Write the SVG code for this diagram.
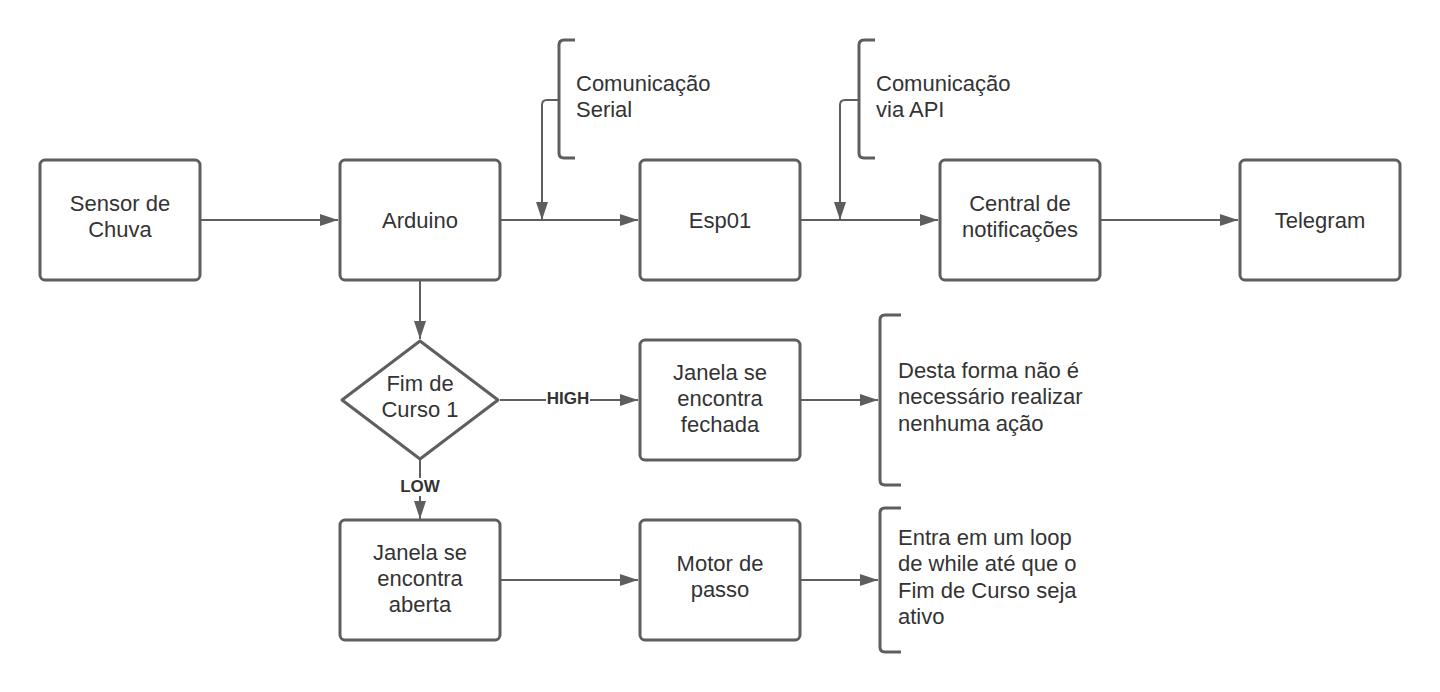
<svg xmlns="http://www.w3.org/2000/svg" width="1440" height="692" viewBox="0 0 1440 692">
<defs>
<style>
.box{fill:#ffffff;stroke:#5e5e5e;stroke-width:3}
.ln{fill:none;stroke:#5e5e5e;stroke-width:2}
.br{fill:none;stroke:#5e5e5e;stroke-width:3}
.t{font-family:"Liberation Sans",Arial,sans-serif;font-size:22px;fill:#333333}
.c{text-anchor:middle}
.lb{font-family:"Liberation Sans",Arial,sans-serif;font-size:17px;font-weight:bold;fill:#333333;text-anchor:middle}
</style>
<marker id="ah" markerWidth="18" markerHeight="12" refX="18" refY="6" orient="auto" markerUnits="userSpaceOnUse">
<path d="M0,0 L18,6 L0,12 Z" fill="#5e5e5e"/>
</marker>
</defs>
<rect width="1440" height="692" fill="#ffffff"/>

<g id="connectors">
<path class="ln" d="M200,220 L338,220" marker-end="url(#ah)"/>
<path class="ln" d="M500,220 L638,220" marker-end="url(#ah)"/>
<path class="ln" d="M800,220 L938,220" marker-end="url(#ah)"/>
<path class="ln" d="M1100,220 L1238,220" marker-end="url(#ah)"/>
<path class="ln" d="M559,100 L547,100 Q542,100 542,105 L542,220" marker-end="url(#ah)"/>
<path class="ln" d="M859,100 L845,100 Q840,100 840,105 L840,220" marker-end="url(#ah)"/>
<path class="ln" d="M420,280 L420,339" marker-end="url(#ah)"/>
<path class="ln" d="M500,400 L638,400" marker-end="url(#ah)"/>
<path class="ln" d="M420,460 L420,519" marker-end="url(#ah)"/>
<path class="ln" d="M800,400 L878,400" marker-end="url(#ah)"/>
<path class="ln" d="M500,580 L638,580" marker-end="url(#ah)"/>
<path class="ln" d="M800,580 L878,580" marker-end="url(#ah)"/>
<rect x="546" y="390" width="44" height="17" fill="#ffffff"/>
<text class="lb" x="568" y="404">HIGH</text>
<rect x="400" y="478" width="40" height="18" fill="#ffffff"/>
<text class="lb" x="420" y="492">LOW</text>
</g>

<g id="sensor">
<rect class="box" x="40" y="160" width="160" height="120" rx="5"/>
<text class="t c" x="120" y="211">Sensor de</text>
<text class="t c" x="120" y="237">Chuva</text>
</g>
<g id="arduino">
<rect class="box" x="340" y="160" width="160" height="120" rx="5"/>
<text class="t c" x="420" y="228">Arduino</text>
</g>
<g id="esp01">
<rect class="box" x="640" y="160" width="160" height="120" rx="5"/>
<text class="t c" x="720" y="228">Esp01</text>
</g>
<g id="central">
<rect class="box" x="940" y="160" width="160" height="120" rx="5"/>
<text class="t c" x="1020" y="211">Central de</text>
<text class="t c" x="1020" y="237">notificações</text>
</g>
<g id="telegram">
<rect class="box" x="1240" y="160" width="160" height="120" rx="5"/>
<text class="t c" x="1320" y="228">Telegram</text>
</g>

<g id="note-serial">
<path class="br" d="M575,40 L564,40 Q559,40 559,45 L559,153 Q559,158 564,158 L575,158"/>
<text class="t" x="576" y="91">Comunicação</text>
<text class="t" x="576" y="117">Serial</text>
</g>
<g id="note-api">
<path class="br" d="M875,40 L864,40 Q859,40 859,45 L859,153 Q859,158 864,158 L875,158"/>
<text class="t" x="876" y="91">Comunicação</text>
<text class="t" x="876" y="117">via API</text>
</g>

<g id="fim-de-curso">
<path class="box" d="M420,341 L498,400 L420,459 L342,400 Z" stroke-linejoin="round"/>
<text class="t c" x="420" y="391">Fim de</text>
<text class="t c" x="420" y="417">Curso 1</text>
</g>

<g id="janela-fechada">
<rect class="box" x="640" y="340" width="160" height="120" rx="5"/>
<text class="t c" x="720" y="380">Janela se</text>
<text class="t c" x="720" y="406">encontra</text>
<text class="t c" x="720" y="432">fechada</text>
</g>
<g id="note-fechada">
<path class="br" d="M901,315 L885,315 Q880,315 880,320 L880,480 Q880,485 885,485 L901,485"/>
<text class="t" x="898" y="378">Desta forma não é</text>
<text class="t" x="898" y="404">necessário realizar</text>
<text class="t" x="898" y="431">nenhuma ação</text>
</g>

<g id="janela-aberta">
<rect class="box" x="340" y="520" width="160" height="120" rx="5"/>
<text class="t c" x="420" y="560">Janela se</text>
<text class="t c" x="420" y="586">encontra</text>
<text class="t c" x="420" y="612">aberta</text>
</g>
<g id="motor">
<rect class="box" x="640" y="520" width="160" height="120" rx="5"/>
<text class="t c" x="720" y="571">Motor de</text>
<text class="t c" x="720" y="597">passo</text>
</g>
<g id="note-motor">
<path class="br" d="M901,508 L885,508 Q880,508 880,513 L880,647 Q880,652 885,652 L901,652"/>
<text class="t" x="898" y="545">Entra em um loop</text>
<text class="t" x="898" y="571">de while até que o</text>
<text class="t" x="898" y="598">Fim de Curso seja</text>
<text class="t" x="898" y="624">ativo</text>
</g>
</svg>
